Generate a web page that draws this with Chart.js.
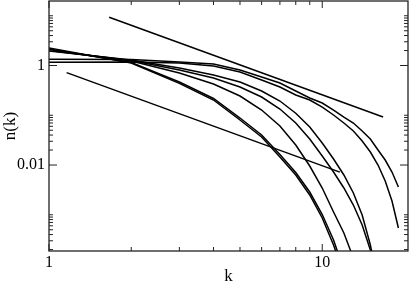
<!DOCTYPE html>
<html><head><meta charset="utf-8">
<script src="https://cdn.jsdelivr.net/npm/chart.js@4/dist/chart.umd.min.js"></script>
<style>html,body{margin:0;padding:0;background:#fff}#wrap{width:409px;height:282px}</style>
</head><body><div id="wrap"><canvas id="c" width="409" height="282"></canvas></div>
<script>
const kValues = [1,2,3,4,5,6,7,8,9,10,11,12,13,14,15,16,17,18,19];
const seriesA1 = [2.247,1.123,0.4387,0.2025,0.0803,0.03654,0.01448,0.0063,0.002495,0.000861,0.000247,0.0000615];
const seriesA2 = [2.146,1.149,0.466,0.2171,0.088,0.0401,0.01626,0.00707,0.002866,0.001012,0.000311,0.0000775];
const seriesB  = [2.049,1.231,0.7066,0.4247,0.2438,0.1275,0.0608,0.02523,0.00955,0.003451,0.001135,0.00043,0.0001352];
const seriesC1 = [2.002,1.26,0.812,0.5607,0.3697,0.2327,0.1335,0.0699,0.03331,0.01517,0.00723,0.003451,0.00157,0.000622,0.0001955,0.0000445];
const seriesC2 = [1.957,1.29,0.8906,0.6442,0.466,0.3072,0.1934,0.1098,0.058,0.02768,0.0132,0.0063,0.002736,0.000989,0.000247,0.0000445];
const seriesD  = [1.16,1.176,1.123,0.977,0.7405,0.511,0.3697,0.2553,0.2025,0.1465,0.1012,0.0699,0.0482,0.03037,0.01826,0.01,0.004769,0.001889,0.000542];
const seriesE  = [1.332,1.32,1.176,1.072,0.812,0.5873,0.4447,0.3072,0.2222,0.1763,0.1275,0.0922,0.0699,0.0482,0.03331,0.02001,0.0126,0.00723,0.003613];
const refUpperK = [1.66, 16.7];
const refUpperN = [9.3, 0.092];
const refLowerK = [1.16, 11.6];
const refLowerN = [0.72, 0.0072];
const xTickValues = [1, 10];
const xTickText = ['1', '10'];
const yTickValues = [0.01, 1];
const yTickText = ['0.01', '1'];
const xMinorTicks = [2,3,4,5,6,7,8,9];
const yMinorTicks = [2,3,4,5,6,7,8,9,10, 0.02,0.03,0.04,0.05,0.06,0.07,0.08,0.09,0.1, 0.0002,0.0003,0.0004,0.0005,0.0006,0.0007,0.0008,0.0009,0.001];

const pts = (xs, ys) => ys.map((v, i) => ({x: xs[i], y: v}));
const curves = [seriesA1, seriesA2, seriesB, seriesC1, seriesC2, seriesD, seriesE];
const datasets = curves.map(s => ({data: pts(kValues, s)}));
datasets.push({data: pts(refUpperK, refUpperN)});
datasets.push({data: pts(refLowerK, refLowerN)});
datasets.forEach(d => Object.assign(d, {borderColor:'#000', borderWidth:1.5, pointRadius:0, fill:false, tension:0}));

const frameTicks = {
  id: 'frameTicks',
  afterDraw(chart) {
    const {ctx, chartArea: a, scales: {x, y}} = chart;
    ctx.save();
    ctx.strokeStyle = '#222';
    ctx.lineWidth = 1.3;
    ctx.strokeRect(a.left, a.top, a.right - a.left, a.bottom - a.top);
    ctx.lineWidth = 1;
    const seg = (x1, y1, x2, y2) => { ctx.beginPath(); ctx.moveTo(x1, y1); ctx.lineTo(x2, y2); ctx.stroke(); };
    const xt = (v, len) => { const p = x.getPixelForValue(v); seg(p, a.bottom, p, a.bottom - len); seg(p, a.top, p, a.top + len); };
    const yt = (v, len) => { const p = y.getPixelForValue(v); seg(a.left, p, a.left + len, p); seg(a.right, p, a.right - len, p); };
    xMinorTicks.forEach(v => xt(v, 4));
    xTickValues.forEach(v => xt(v, 7));
    yMinorTicks.forEach(v => yt(v, 4));
    yTickValues.forEach(v => yt(v, 8));
    ctx.restore();
  }
};

const serif = 'Liberation Serif';
const noPad = s => { s.paddingTop = 0; s.paddingBottom = 0; s.paddingLeft = 0; s.paddingRight = 0; };
new Chart(document.getElementById('c'), {
  type: 'line',
  data: {datasets},
  plugins: [frameTicks],
  options: {
    responsive: false, animation: false, devicePixelRatio: 1,
    layout: {padding: {top: 1, right: 1, left: 0, bottom: 0}},
    plugins: {legend: {display: false}, tooltip: {enabled: false}},
    scales: {
      x: {
        type: 'logarithmic', min: 1, max: 20.6,
        grid: {display: false, drawTicks: false}, border: {display: false},
        afterFit: s => { s.height = 31; noPad(s); },
        afterBuildTicks: s => { s.ticks = xTickValues.map(v => ({value: v})); },
        ticks: {autoSkip: false, maxRotation: 0, padding: 2, color: '#000', font: {family: serif, size: 16},
                callback: (v, i) => xTickText[i]},
        title: {display: true, text: 'k', color: '#000', padding: 0, font: {family: serif, size: 17, lineHeight: 0.7}}
      },
      y: {
        type: 'logarithmic', min: 0.000187, max: 19.8,
        grid: {display: false, drawTicks: false}, border: {display: false},
        afterFit: s => { s.width = 49; noPad(s); },
        afterBuildTicks: s => { s.ticks = yTickValues.map(v => ({value: v})); },
        ticks: {autoSkip: false, padding: 4, color: '#000', font: {family: serif, size: 16},
                callback: (v, i) => yTickText[i]},
        title: {display: true, text: 'n(k)', color: '#000', padding: 0, font: {family: serif, size: 17}}
      }
    }
  }
});
</script></body></html>
